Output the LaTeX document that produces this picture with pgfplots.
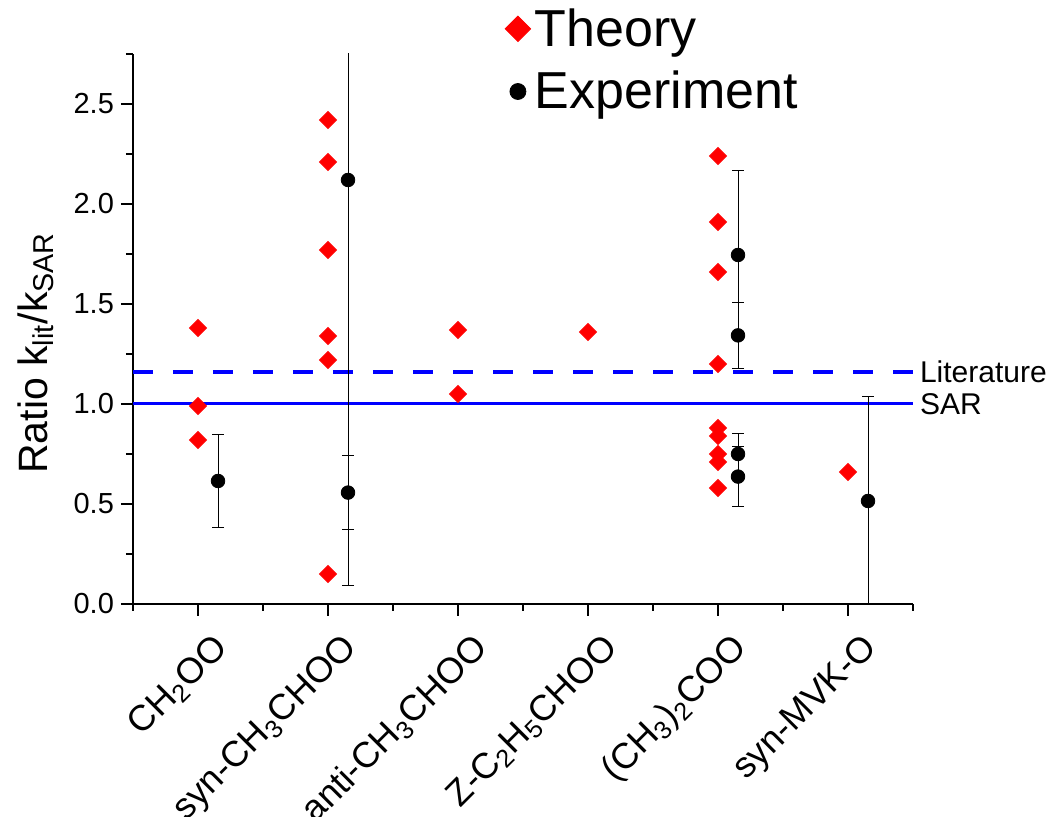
\documentclass[border=0pt]{standalone}
\usepackage{fontspec}
\setmainfont{Liberation Sans}
\usepackage{pgfplots}
\usepackage{pgfplotstable}
\pgfplotsset{compat=1.18}

\pgfplotstableread{
x y
1 1.38
1 0.99
1 0.82
2 2.42
2 2.21
2 1.77
2 1.34
2 1.22
2 0.15
3 1.37
3 1.05
4 1.36
5 2.24
5 1.91
5 1.66
5 1.20
5 0.88
5 0.84
5 0.75
5 0.71
5 0.58
6 0.66
}\theory

\pgfplotstableread{
x y e
1.154 0.615 0.232
2.154 2.12 2.03
2.154 0.557 0.185
5.154 1.745 0.42
5.154 1.343 0.165
5.154 0.75 0.10
5.154 0.637 0.15
6.154 0.515 0.52
}\experiment

\begin{document}
\begin{tikzpicture}
\useasboundingbox (-66.5pt,-106.5pt) rectangle (459pt,302pt);
\begin{axis}[
	at={(0pt,0pt)}, anchor=south west,
	scale only axis, width=390pt, height=275pt,
	xmin=0.5, xmax=6.5, ymin=0, ymax=2.75,
	axis x line*=bottom, axis y line*=left,
	axis line style={-, line width=0.75pt},
	clip mode=individual,
	xtick={1,...,6},
	minor xtick={0.5,1.5,...,6.5},
	xticklabels={CH\textsubscript{2}OO, syn-CH\textsubscript{3}CHOO, anti-CH\textsubscript{3}CHOO, Z-C\textsubscript{2}H\textsubscript{5}CHOO, (CH\textsubscript{3})\textsubscript{2}COO, syn-MVK-O},
	ytick={0,0.5,...,2.5},
	minor ytick={0.25,0.75,...,2.75},
	tick align=outside,
	major tick length=6pt, minor tick length=3.5pt,
	tick style={black, line width=0.75pt},
	/pgf/number format/.cd, fixed, fixed zerofill, precision=1, assume math mode=true,
	/pgfplots/.cd,
	y tick label style={font=\fontsize{14.5}{17}\selectfont},
	x tick label style={font=\fontsize{18}{21}\selectfont, xshift=14.5pt, yshift=-11pt, rotate=45, anchor=east},
	ylabel={Ratio k\textsubscript{lit}/k\textsubscript{SAR}},
	ylabel style={font=\fontsize{20.5}{24}\selectfont, yshift=3pt, xshift=-12pt},
	legend style={draw=none, fill=none, at={(rel axis cs:0.469,1.098)}, anchor=north west,
		font=\fontsize{26}{31}\selectfont, legend cell align=left, row sep=7pt},
]
\addplot [blue, line width=1.5pt, forget plot] coordinates {(0.5,1) (6.5,1)};
\addplot [blue, line width=2pt, dash pattern=on 10pt off 10pt, forget plot] coordinates {(0.5,1.16) (6.5,1.16)};

\addplot [only marks, mark=square*, mark size=3pt, mark options={rotate=45, fill=red, draw=red},
	legend image post style={mark size=4.5pt}] table [x=x, y=y] {\theory};
\addlegendentry{Theory}

\addplot [only marks, mark=*, mark size=3.4pt, mark options={fill=black, draw=black},
	legend image post style={mark size=4pt},
	error bars/.cd, y dir=both, y explicit,
	error bar style={black, line width=0.5pt},
	error mark options={rotate=90, mark size=3pt, line width=0.5pt, black}]
	table [x=x, y=y, y error=e] {\experiment};
\addlegendentry{Experiment}

\node [anchor=west, font=\fontsize{15}{18}\selectfont] at (axis cs:6.5,1.16) {Literature};
\node [anchor=west, font=\fontsize{15}{18}\selectfont] at (axis cs:6.5,1) {SAR};
\end{axis}
\end{tikzpicture}
\end{document}
